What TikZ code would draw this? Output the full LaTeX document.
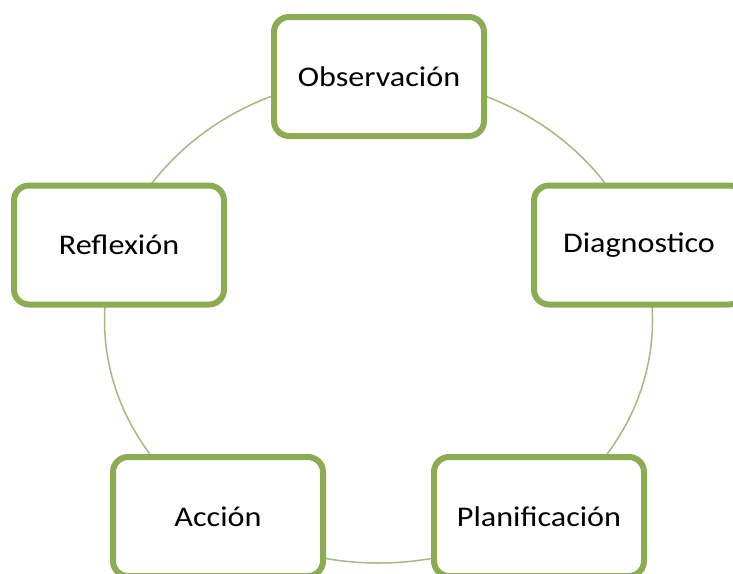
\documentclass[tikz,border=0pt]{standalone}
\usepackage{fontspec}
\setmainfont{Carlito}
\definecolor{boxgreen}{RGB}{140,172,84}
\definecolor{arcgreen}{RGB}{165,185,130}
\newcommand{\wtxt}[1]{\scalebox{1.128}[1]{#1}}
\tikzset{
  stagebox/.style={draw=boxgreen, line width=6pt, fill=white, rounded corners=15pt,
    minimum width=210pt, minimum height=119pt, inner sep=0pt,
    font=\fontsize{28.5}{32}\selectfont, text=black},
  cyclearc/.style={draw=arcgreen, line width=1.5pt}
}
\begin{document}
\begin{tikzpicture}[x=1pt,y=-1pt]
\clip (0,0) rectangle (733,573);
\fill[white] (0,0) rectangle (733,573);
\coordinate (c) at (378.5,320);
\draw[cyclearc] (c) ellipse [x radius=274, y radius=243];
\node[stagebox] (obs) at (379,76.5) {\wtxt{Observación}};
\node[stagebox] (dia) at (639,245) {\wtxt{Diagnostico}};
\node[stagebox] (pla) at (539,516.5) {\wtxt{Planificación}};
\node[stagebox] (acc) at (218,516.5) {\wtxt{Acción}};
\node[stagebox] (ref) at (119,245) {\wtxt{Reflexión}};
\end{tikzpicture}
\end{document}
